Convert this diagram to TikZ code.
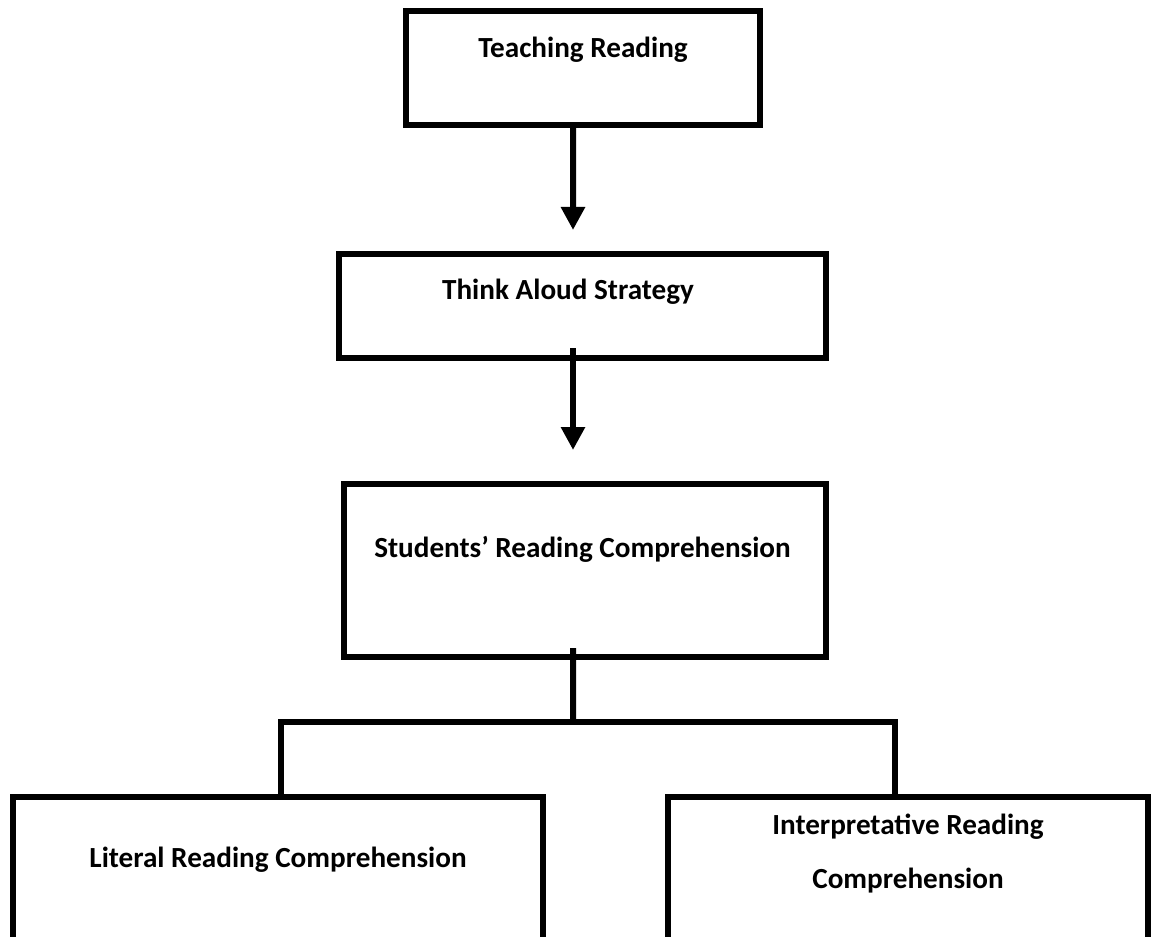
\documentclass[tikz,border=0pt]{standalone}
\usepackage{fontspec}
\setmainfont{Carlito}
\usetikzlibrary{arrows.meta,positioning}

\begin{document}
\begin{tikzpicture}[font=\bfseries\fontsize{16.6}{30.2}\selectfont,
  box/.style={draw, line width=0.12cm, inner sep=0pt, outer sep=0pt},
  link/.style={line width=0.12cm},
  arrow/.style={link, -{Triangle[width=0.46cm,length=0.46cm]}}]
\useasboundingbox (0,0) rectangle (23.04,-18.74);
\clip (0,0) rectangle (23.04,-18.74);

% boxes
\node[box, minimum width=7.08cm, minimum height=2.28cm] (teach) at (11.66,-1.36) {};
\node[anchor=base] (teachtxt) at (teach.north) [yshift=-0.94cm] {Teaching Reading};

\node[box, minimum width=9.74cm, minimum height=2.08cm] (think) at (11.65,-6.12) {};
\node[anchor=base] (thinktxt) at (think.north) [xshift=-0.29cm, yshift=-0.92cm] {Think Aloud Strategy};

\node[box, minimum width=9.64cm, minimum height=3.46cm] (students) at (11.70,-11.41) {};
\node[anchor=base] (studentstxt) at (students.north) [xshift=-0.05cm, yshift=-1.46cm] {Students’ Reading Comprehension};

\node[box, minimum width=10.6cm, minimum height=3.06cm] (literal) at (5.56,-17.47) {};
\node[anchor=base] (literaltxt) at (literal.north) [yshift=-1.40cm] {Literal Reading Comprehension};

\node[box, minimum width=9.6cm, minimum height=3.06cm] (interp) at (18.16,-17.47) {};
\node[anchor=base, align=center] (interptxt) at (interp.north) [yshift=-1.82cm] {Interpretative Reading\\Comprehension};

% connectors
\draw[arrow] ([xshift=-0.2cm]teach.south) -- ([xshift=-0.19cm, yshift=0.48cm]think.north);
\draw[arrow] ([xshift=-0.19cm, yshift=0.2cm]think.south) -- ([xshift=-0.24cm, yshift=0.68cm]students.north);
\coordinate (branch) at (11.46,-14.44);
\draw[link] ([xshift=-0.24cm, yshift=0.18cm]students.south) -- (branch);
\draw[link] ([xshift=0.06cm]literal.north) |- (branch) -| ([xshift=-0.26cm]interp.north);
\end{tikzpicture}
\end{document}
